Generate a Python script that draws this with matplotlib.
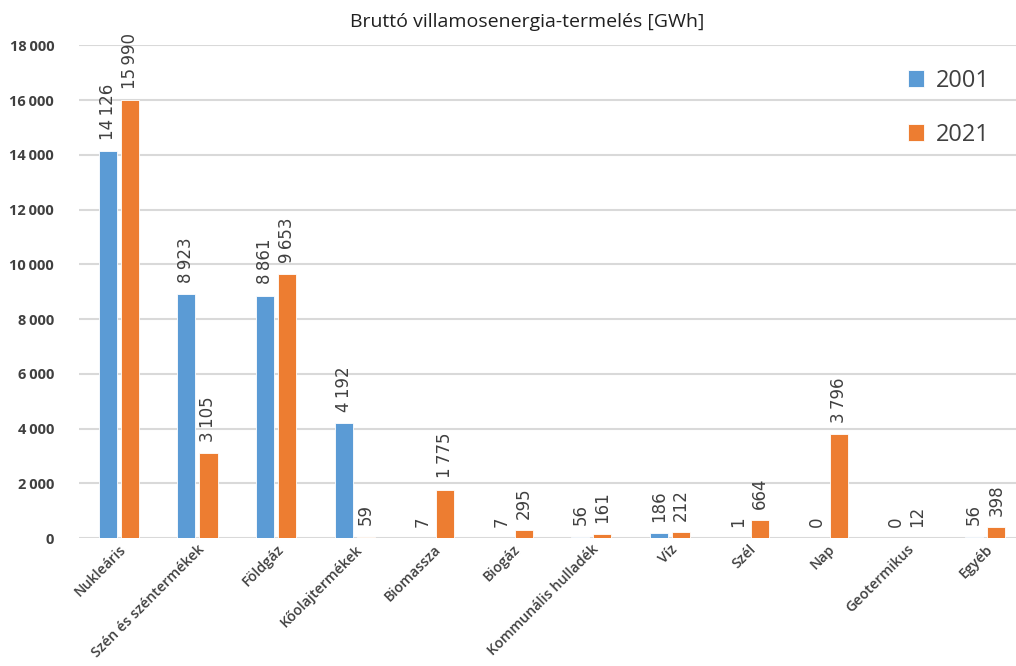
import numpy as np
import matplotlib.pyplot as plt

categories = ['Nukleáris', 'Szén és széntermékek', 'Földgáz', 'Kőolajtermékek',
              'Biomassza', 'Biogáz', 'Kommunális hulladék', 'Víz', 'Szél', 'Nap',
              'Geotermikus', 'Egyéb']
years = ['2001', '2021']
vals_2001 = [14126, 8923, 8861, 4192, 7, 7, 56, 186, 1, 0, 0, 56]
vals_2021 = [15990, 3105, 9653, 59, 1775, 295, 161, 212, 664, 3796, 12, 398]
yticks = [0, 2000, 4000, 6000, 8000, 10000, 12000, 14000, 16000, 18000]

blue = '#5B9BD5'
orange = '#ED7D31'
txt = '#404040'

def fmt(v):
    return f'{v:,}'.replace(',', '\u2009')

fig = plt.figure(figsize=(10.16, 6.66), dpi=100)
ax = fig.add_axes([0.078, 0.192, 0.922, 0.740])

x = np.arange(len(categories))
w = 0.23
b1 = ax.bar(x - 0.14, vals_2001, w, color=blue, edgecolor='white', linewidth=0.6, label=years[0], zorder=3)
b2 = ax.bar(x + 0.14, vals_2021, w, color=orange, edgecolor='white', linewidth=0.6, label=years[1], zorder=3)

for bars, vals in [(b1, vals_2001), (b2, vals_2021)]:
    for r, v in zip(bars, vals):
        ax.annotate(fmt(v), (r.get_x() + r.get_width() / 2, r.get_height()),
                    xytext=(0, 8), textcoords='offset points', rotation=90,
                    ha='center', va='bottom', fontsize=12, color=txt,
                    family='DejaVu Sans')

ax.set_ylim(0, 18000)
ax.set_xlim(-0.5, 11.39)
ax.set_yticks(yticks)
ax.set_yticklabels([fmt(t) for t in yticks], family='Open Sans', fontweight='bold',
                   fontsize=10.5, color=txt)
ax.set_xticks(x)
ax.set_xticklabels(categories, rotation=45, ha='right', rotation_mode='anchor',
                   family='Open Sans', fontweight='semibold', fontsize=10.3, color=txt)
ax.tick_params(axis='both', length=0)
ax.tick_params(axis='y', pad=18)
ax.tick_params(axis='x', pad=3)
ax.grid(axis='y', color='#D9D9D9', linewidth=1.5, zorder=0)
for s in ax.spines.values():
    s.set_visible(False)

fig.text(0.519, 0.967, 'Bruttó villamosenergia-termelés [GWh]', ha='center', va='center',
         fontsize=14, family='Open Sans', color='#202020')

leg = ax.legend(loc='upper right', bbox_to_anchor=(0.995, 0.995), frameon=False,
                handlelength=0.7, handleheight=0.7, handletextpad=0.5,
                labelspacing=1.25, prop={'family': 'Open Sans', 'size': 17})
for t in leg.get_texts():
    t.set_color(txt)

fig.savefig('out.png', dpi=100)
